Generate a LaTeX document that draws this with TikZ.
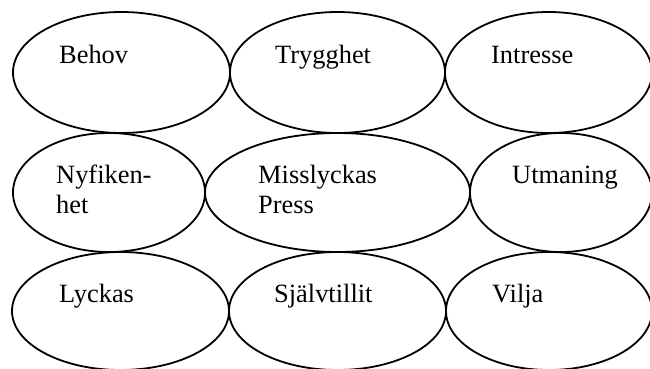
\documentclass[tikz,border=0pt]{standalone}
\usepackage{fontspec}
\setmainfont{Liberation Serif}
\usetikzlibrary{shapes.geometric}
\begin{document}
\begin{tikzpicture}[x=1bp,y=-1bp,
  oval/.style={draw=black,line width=1.8bp,ellipse,inner sep=0pt,minimum width=#1},
  row1/.style={minimum height=121bp},
  row2/.style={minimum height=119bp},
  row3/.style={minimum height=118bp},
  lbl/.style={anchor=base west,inner sep=0pt,font=\fontsize{26.5}{30}\selectfont}]
\useasboundingbox (0,0) rectangle (650,368);
% row 1
\node[oval=217bp,row1] (behov) at (121.5,72.5) {};
\node[oval=215bp,row1] (trygg) at (337.5,72.5) {};
\node[oval=207bp,row1] (intr) at (548.5,72.5) {};
% row 2
\node[oval=192bp,row2] (nyf) at (109,192.5) {};
\node[oval=265bp,row2] (miss) at (337.5,192.5) {};
\node[oval=182bp,row2] (utm) at (561,192.5) {};
% row 3
\node[oval=217bp,row3] (lyck) at (120.5,311) {};
\node[oval=217bp,row3] (sjalv) at (337.5,311) {};
\node[oval=206bp,row3] (vilja) at (549,311) {};
% labels
\node[lbl] (tbehov) at (59,63) {Behov};
\node[lbl] (ttrygg) at (275,63) {Trygghet};
\node[lbl] (tintr) at (491,63) {Intresse};
\node[lbl] (tnyf1) at (56,183) {Nyfiken-};
\node[lbl] (tnyf2) at (56,213) {het};
\node[lbl] (tmiss1) at (258,183) {Misslyckas};
\node[lbl] (tmiss2) at (258,213) {Press};
\node[lbl] (tutm) at (512,183) {Utmaning};
\node[lbl] (tlyck) at (59,302) {Lyckas};
\node[lbl] (tsjalv) at (274,302) {Självtillit};
\node[lbl] (tvilja) at (492,302) {Vilja};
\end{tikzpicture}
\end{document}
